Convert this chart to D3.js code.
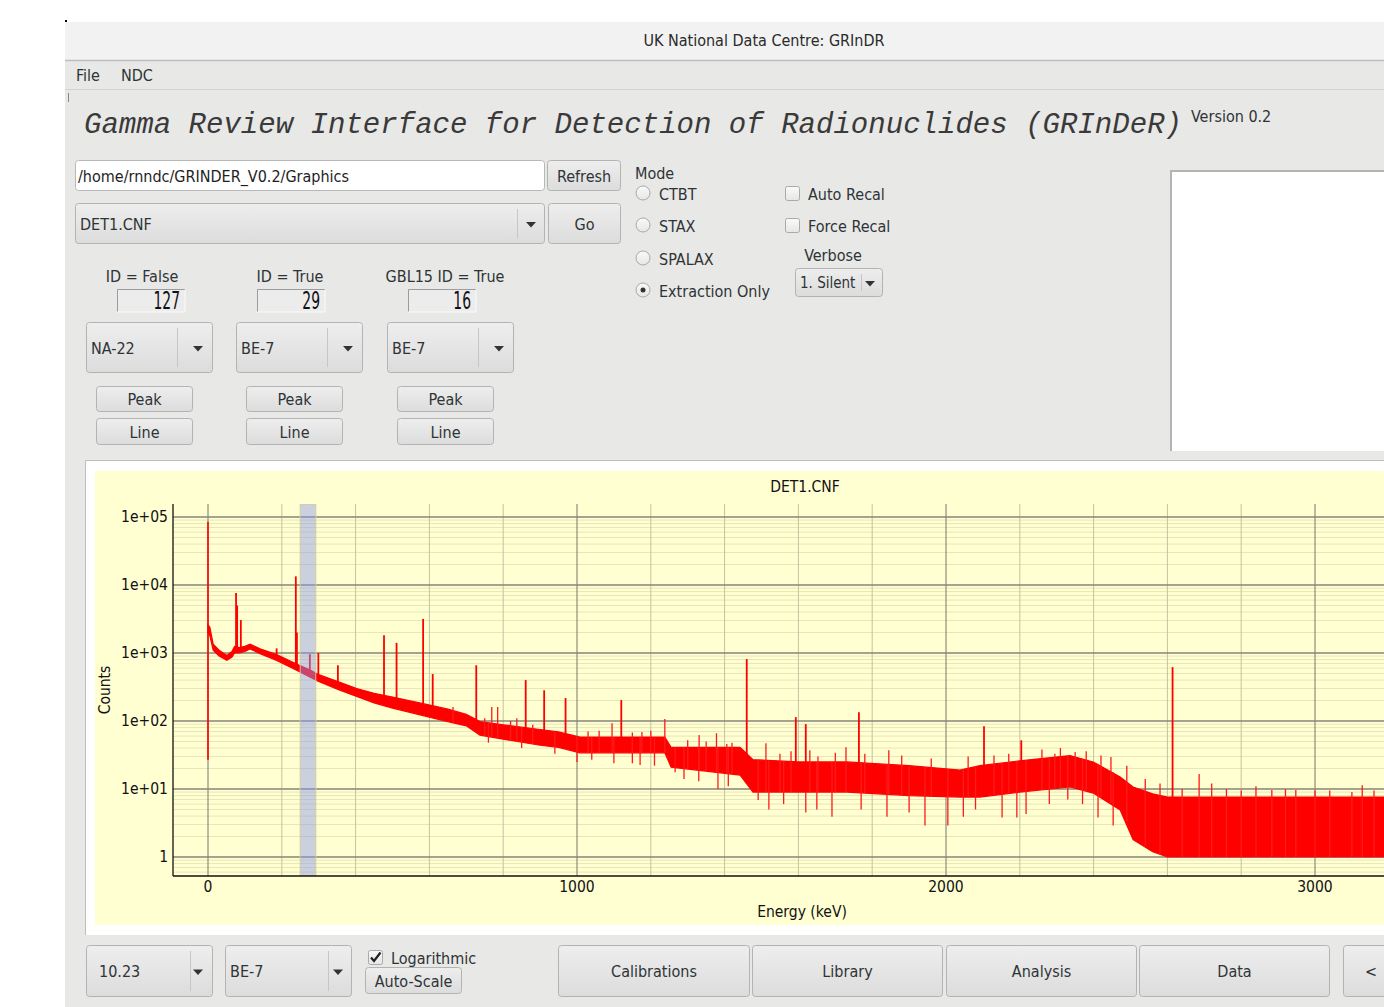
<!DOCTYPE html>
<html>
<head>
<meta charset="utf-8">
<script src="https://cdn.jsdelivr.net/npm/d3@7"></script>
<style>
html, body { margin: 0; padding: 0; background: #fff; overflow: hidden; }
svg { display: block; }
text { font-family: "DejaVu Sans Condensed", "DejaVu Sans", sans-serif; fill: #2e3436; }
</style>
</head>
<body>
<svg id="app" width="1384" height="1007"></svg>
<script>
// ---- chart data ----
const xTickValues = [0, 1000, 2000, 3000];
const yTickValues = [1, 10, 100, 1000, 10000, 100000];
const yTickLabels = ['1', '1e+01', '1e+02', '1e+03', '1e+04', '1e+05'];

// continuum envelope: energy (keV), lower and upper edge of the noisy trace (counts)
const envEnergy = [0, 5, 14, 30, 51, 65, 72, 85, 100, 114, 141, 186, 240, 277, 300, 352, 403, 450, 500, 583, 650, 700, 737, 800, 900, 950, 1008, 1100, 1238, 1255, 1442, 1477, 1600, 1732, 1900, 2038, 2092, 2200, 2336, 2399, 2472, 2507, 2560, 2600, 3200];
const envLow = [2000, 1800, 1100, 900, 780, 870, 1000, 1000, 1050, 1150, 980, 780, 560, 440, 380, 290, 230, 185, 155, 120, 98, 85, 62, 54, 44, 41, 34, 34, 34, 21, 16, 9, 9, 9, 8, 7.6, 7.6, 9, 10.7, 8.7, 4.9, 1.8, 1.2, 1, 1];
const envHigh = [2600, 2400, 1350, 1100, 920, 1050, 1250, 1200, 1250, 1350, 1150, 950, 690, 560, 480, 380, 300, 255, 225, 180, 150, 125, 98, 88, 75, 69, 58, 58, 58, 41, 41, 27, 25, 25, 22, 19, 22, 26, 31, 25, 15, 10.7, 8.5, 7.6, 7.6];

// gamma lines: energy (keV) and top of the peak (counts)
const peakEnergy = [76, 79, 89, 186, 238, 241, 276, 299, 352, 477, 511, 583, 609, 727, 861, 911, 969, 1120, 1460, 1593, 1620, 1764, 2103, 2204, 2614];
const peakTop = [7600, 5000, 3050, 1170, 13400, 2000, 960, 1000, 660, 1830, 1410, 3170, 490, 660, 400, 283, 218, 203, 815, 114, 90, 135, 84, 52, 620];

// channel-0 spike (low, high counts)
const zeroSpike = [27, 85000];

// smaller upward spikes in the noise (energy, counts)
const spikeEnergy = [664, 750, 769, 785, 820, 837, 880, 1030, 1060, 1095, 1150, 1176, 1200, 1238, 1300, 1331, 1350, 1378, 1406, 1420, 1512, 1550, 1580, 1631, 1653, 1700, 1729, 1780, 1845, 1880, 1960, 2060, 2130, 2170, 2260, 2295, 2310, 2350, 2380, 2420, 2447, 2490, 2540, 2580, 2640, 2686, 2720, 2760, 2800, 2840, 2883, 2920, 2948, 3000, 3040, 3100, 3128, 3160];
const spikeTop = [160, 110, 160, 160, 100, 110, 88, 70, 72, 93, 68, 69, 72, 107, 52, 62, 50, 66, 46, 48, 47, 33, 36, 37, 30, 34, 41, 33, 37, 31, 28, 30, 31, 33, 38, 33, 40, 35, 36, 31, 29.5, 22, 14, 12, 10, 16.6, 12, 10, 9.5, 11, 9.7, 10, 9.7, 9.5, 9.5, 9, 11.4, 9.5];

// downward dips in the noise (energy, counts)
const dipEnergy = [760, 850, 940, 1000, 1040, 1100, 1150, 1171, 1210, 1266, 1290, 1330, 1382, 1410, 1491, 1520, 1560, 1620, 1650, 1691, 1770, 1840, 1900, 1943, 2005, 2047, 2080, 2152, 2192, 2217, 2280, 2330, 2370, 2412, 2453];
const dipBottom = [48, 40, 33, 25, 27, 24, 24, 22.6, 22, 17.7, 14, 13, 10, 11, 6.9, 5, 6, 4.5, 5, 3.9, 5, 3.9, 4.5, 2.9, 2.9, 3.9, 5, 3.8, 3.8, 4.3, 6, 7, 6, 3.8, 2.9];

// highlighted region of interest (keV)
const roiRange = [250, 292];

// ---- GUI texts ----
const idLabels = ['ID = False', 'ID = True', 'GBL15 ID = True'];
const idCounts = ['127', '29', '16'];
const nuclideChoices = ['NA-22', 'BE-7', 'BE-7'];
const modeOptions = ['CTBT', 'STAX', 'SPALAX', 'Extraction Only'];
const bottomButtons = ['Calibrations', 'Library', 'Analysis', 'Data', '<'];

const svg = d3.select('#app');
const defs = svg.append('defs');

let grad = defs.append('linearGradient').attr('id', 'btn').attr('x1', 0).attr('x2', 0).attr('y1', 0).attr('y2', 1);
grad.append('stop').attr('offset', '0%').attr('stop-color', '#eeeeee');
grad.append('stop').attr('offset', '100%').attr('stop-color', '#dcdcdc');
let rgrad = defs.append('linearGradient').attr('id', 'radio').attr('x1', 0).attr('x2', 0).attr('y1', 0).attr('y2', 1);
rgrad.append('stop').attr('offset', '0%').attr('stop-color', '#fafafa');
rgrad.append('stop').attr('offset', '100%').attr('stop-color', '#e6e6e6');

// window chrome
svg.append('rect').attr('x', 65).attr('y', 22).attr('width', 1330).attr('height', 990).attr('fill', '#e8e8e7');
svg.append('rect').attr('x', 65).attr('y', 20).attr('width', 2).attr('height', 2).attr('fill', '#000');
svg.append('rect').attr('x', 65).attr('y', 22).attr('width', 1330).attr('height', 38).attr('fill', '#f2f2f2');
svg.append('line').attr('x1', 65).attr('x2', 1384).attr('y1', 60.5).attr('y2', 60.5).attr('stroke', '#bdbdbd').attr('stroke-width', 1.5);
svg.append('text').attr('x', 764).attr('y', 40).attr('text-anchor', 'middle').attr('dominant-baseline', 'central')
    .style('font-size', '16px').style('fill', '#2a2a2a').text('UK National Data Centre: GRInDR');
svg.append('line').attr('x1', 65).attr('x2', 1384).attr('y1', 89.5).attr('y2', 89.5).attr('stroke', '#d2d2d2');
svg.append('text').attr('x', 76).attr('y', 75).attr('dominant-baseline', 'central').style('font-size', '16px').text('File');
svg.append('text').attr('x', 121).attr('y', 75).attr('dominant-baseline', 'central').style('font-size', '16px').text('NDC');
svg.append('line').attr('x1', 68.5).attr('x2', 68.5).attr('y1', 93).attr('y2', 102).attr('stroke', '#888');

svg.append('text').attr('x', 84).attr('y', 125).attr('dominant-baseline', 'central')
    .attr('textLength', 1098).attr('lengthAdjust', 'spacingAndGlyphs')
    .style('font-family', '"Liberation Mono", "DejaVu Sans Mono", monospace').style('font-style', 'italic')
    .style('font-size', '29px').style('fill', '#3a3a3a')
    .text('Gamma Review Interface for Detection of Radionuclides (GRInDeR)');
svg.append('text').attr('x', 1191).attr('y', 116).attr('dominant-baseline', 'central').style('font-size', '16px').text('Version 0.2');

// ---- widget helpers ----
function button(x, y, w, h, label, tx, fs) {
    svg.append('rect').attr('x', x + 0.5).attr('y', y + 0.5).attr('width', w - 1).attr('height', h - 1).attr('rx', 3)
        .attr('fill', 'url(#btn)').attr('stroke', '#b3b3b3');
    svg.append('text').attr('x', tx === undefined ? x + w / 2 : tx).attr('y', y + h / 2 + 0.5)
        .attr('text-anchor', tx === undefined ? 'middle' : 'start').attr('dominant-baseline', 'central')
        .style('font-size', (fs || 16) + 'px').text(label);
}
function arrow(cx, cy) {
    svg.append('path').attr('d', `M${cx - 5},${cy - 2.5}L${cx + 5},${cy - 2.5}L${cx},${cy + 3}Z`).attr('fill', '#333');
}
function combo(x, y, w, h, label, tx, sepX, arrX, fs) {
    button(x, y, w, h, label, tx, fs);
    svg.append('line').attr('x1', sepX + 0.5).attr('x2', sepX + 0.5).attr('y1', y + 6).attr('y2', y + h - 6).attr('stroke', '#c6c6c6');
    arrow(arrX, y + h / 2 + 1);
}
function radio(cx, cy, checked, label) {
    svg.append('circle').attr('cx', cx).attr('cy', cy).attr('r', 7).attr('fill', 'url(#radio)').attr('stroke', '#a9a9a9');
    if (checked) svg.append('circle').attr('cx', cx).attr('cy', cy).attr('r', 2.5).attr('fill', '#333');
    svg.append('text').attr('x', cx + 16).attr('y', cy + 1).attr('dominant-baseline', 'central').style('font-size', '16px').text(label);
}
function checkbox(x, y, checked, label) {
    svg.append('rect').attr('x', x + 0.5).attr('y', y + 0.5).attr('width', 14).attr('height', 14).attr('rx', 2)
        .attr('fill', 'url(#radio)').attr('stroke', '#a9a9a9');
    if (checked) svg.append('path').attr('d', `M${x + 3},${y + 7.5}L${x + 6},${y + 11}L${x + 12.5},${y + 2.5}`)
        .attr('fill', 'none').attr('stroke', '#222').attr('stroke-width', 2.2);
    svg.append('text').attr('x', x + 23).attr('y', y + 8).attr('dominant-baseline', 'central').style('font-size', '16px').text(label);
}

// file / spectrum selectors
svg.append('rect').attr('x', 75.5).attr('y', 160.5).attr('width', 469).attr('height', 30).attr('rx', 3).attr('fill', '#fff').attr('stroke', '#b8b8b8');
svg.append('text').attr('x', 78).attr('y', 176).attr('dominant-baseline', 'central').style('font-size', '16px').style('fill', '#1e1e1e')
    .text('/home/rnndc/GRINDER_V0.2/Graphics');
button(547, 160, 74, 31, 'Refresh');
combo(75, 203, 470, 41, 'DET1.CNF', 80, 517, 531);
button(548, 203, 73, 41, 'Go');

// ID counters
const colLeft = [86, 236, 387];
const labelCx = [142, 290, 445];
const lcdX = [117, 257, 408];
idLabels.forEach((t, i) => {
    svg.append('text').attr('x', labelCx[i]).attr('y', 276).attr('text-anchor', 'middle').attr('dominant-baseline', 'central')
        .style('font-size', '16px').text(t);
    svg.append('rect').attr('x', lcdX[i]).attr('y', 289).attr('width', 68).attr('height', 23).attr('fill', '#ececec');
    svg.append('path').attr('d', `M${lcdX[i] + 0.5},${312}V${289.5}H${lcdX[i] + 68}`).attr('fill', 'none').attr('stroke', '#9c9c9c');
    svg.append('path').attr('d', `M${lcdX[i] + 68},${289.5}V${312}H${lcdX[i]}`).attr('fill', 'none').attr('stroke', '#fbfbfb');
    svg.append('text').attr('transform', `translate(${lcdX[i] + 63},301) scale(0.62,1)`).attr('text-anchor', 'end')
        .attr('dominant-baseline', 'central').style('font-size', '25px').style('fill', '#111').text(idCounts[i]);
    combo(colLeft[i], 322, 127, 51, nuclideChoices[i], colLeft[i] + 5, colLeft[i] + 91, colLeft[i] + 112);
    button(colLeft[i] + 10, 386, 97, 26, 'Peak');
    button(colLeft[i] + 10, 418, 97, 27, 'Line');
});

// mode options
svg.append('text').attr('x', 635).attr('y', 173).attr('dominant-baseline', 'central').style('font-size', '16px').text('Mode');
const radioY = [193, 225, 258, 290];
modeOptions.forEach((m, i) => radio(643, radioY[i], i === 3, m));
checkbox(785, 186, false, 'Auto Recal');
checkbox(785, 218, false, 'Force Recal');
svg.append('text').attr('x', 833).attr('y', 255).attr('text-anchor', 'middle').attr('dominant-baseline', 'central')
    .style('font-size', '16px').text('Verbose');
combo(795, 268, 88, 29, '1. Silent', 800, 861, 870, 15);

// empty white panel
svg.append('rect').attr('x', 1170).attr('y', 170).attr('width', 230).attr('height', 281).attr('fill', '#fff');
svg.append('path').attr('d', 'M1171,451V171H1400').attr('fill', 'none').attr('stroke', '#b4b4b4').attr('stroke-width', 2);

// chart frame
svg.append('rect').attr('x', 85).attr('y', 461).attr('width', 1320).attr('height', 474).attr('fill', '#fff');
svg.append('path').attr('d', 'M85.5,935V460.5H1400').attr('fill', 'none').attr('stroke', '#bdbdbd');
svg.append('rect').attr('x', 95).attr('y', 471).attr('width', 1310).attr('height', 454).attr('fill', '#ffffd2');

// ---- chart ----
const plotLeft = 173, plotTop = 504, plotBottom = 876, plotRight = 1460;
const x = d3.scaleLinear().domain([0, 3000]).range([208, 1315]);
const y = d3.scaleLog().domain([1, 1e5]).range([857, 517]);

defs.append('clipPath').attr('id', 'plotClip').append('rect')
    .attr('x', plotLeft).attr('y', plotTop).attr('width', plotRight - plotLeft).attr('height', plotBottom - plotTop);
const plot = svg.append('g').attr('clip-path', 'url(#plotClip)');

// horizontal grid
const minorY = [];
[0.1, 1, 10, 100, 1000, 10000, 100000].forEach(d => d3.range(2, 10).forEach(m => minorY.push(d * m)));
plot.selectAll('.hminor').data(minorY.filter(v => y(v) > plotTop && y(v) < plotBottom)).enter().append('line')
    .attr('x1', plotLeft).attr('x2', plotRight).attr('y1', d => y(d)).attr('y2', d => y(d))
    .attr('stroke', '#e6e6b8').attr('stroke-width', 1);
// vertical grid
const minorX = d3.range(0, 3401, 200).filter(v => v % 1000 !== 0);
plot.selectAll('.vminor').data(minorX).enter().append('line')
    .attr('x1', d => x(d)).attr('x2', d => x(d)).attr('y1', plotTop).attr('y2', plotBottom)
    .attr('stroke', '#c3c3a3').attr('stroke-width', 1);
plot.selectAll('.vmajor').data(xTickValues).enter().append('line')
    .attr('x1', d => x(d)).attr('x2', d => x(d)).attr('y1', plotTop).attr('y2', plotBottom)
    .attr('stroke', '#77776a').attr('stroke-width', 1);
plot.selectAll('.hmajor').data(yTickValues).enter().append('line')
    .attr('x1', plotLeft).attr('x2', plotRight).attr('y1', d => y(d)).attr('y2', d => y(d))
    .attr('stroke', '#85857a').attr('stroke-width', 1.3);

// spectrum
const env = envEnergy.map((e, i) => ({ e: e, lo: envLow[i], hi: envHigh[i] }));
const area = d3.area().x(d => x(d.e)).y0(d => y(d.lo)).y1(d => y(d.hi));
plot.append('path').datum(env).attr('d', area).attr('fill', '#ff0000').attr('stroke', '#ff0000').attr('stroke-width', 1.2);

const lowAt = d3.scaleLinear().domain(envEnergy).range(envLow);
const highAt = d3.scaleLinear().domain(envEnergy).range(envHigh);

plot.append('line').attr('x1', x(0)).attr('x2', x(0)).attr('y1', y(zeroSpike[0])).attr('y2', y(zeroSpike[1]))
    .attr('stroke', '#ff0000').attr('stroke-width', 1.6);
plot.selectAll('.spike').data(spikeEnergy).enter().append('line')
    .attr('x1', d => x(d)).attr('x2', d => x(d))
    .attr('y1', d => y(lowAt(d))).attr('y2', (d, i) => y(spikeTop[i]))
    .attr('stroke', '#ff1a1a').attr('stroke-width', 1.3);
plot.selectAll('.dip').data(dipEnergy).enter().append('line')
    .attr('x1', d => x(d)).attr('x2', d => x(d))
    .attr('y1', d => y(highAt(d))).attr('y2', (d, i) => y(dipBottom[i]))
    .attr('stroke', '#ff1a1a').attr('stroke-width', 1.3);
plot.selectAll('.peak').data(peakEnergy).enter().append('line')
    .attr('x1', d => x(d)).attr('x2', d => x(d))
    .attr('y1', d => y(lowAt(d))).attr('y2', (d, i) => y(peakTop[i]))
    .attr('stroke', '#ff0000').attr('stroke-width', 1.8);

// region of interest
plot.append('rect').attr('x', x(roiRange[0])).attr('y', plotTop)
    .attr('width', x(roiRange[1]) - x(roiRange[0])).attr('height', plotBottom - plotTop)
    .attr('fill', 'rgb(140,150,240)').attr('fill-opacity', 0.45)
    .attr('stroke', 'rgba(205,205,150,0.8)').attr('stroke-width', 1.2);

// axes
svg.append('line').attr('x1', plotLeft).attr('x2', plotLeft).attr('y1', plotTop).attr('y2', plotBottom).attr('stroke', '#111').attr('stroke-width', 1.3);
svg.append('line').attr('x1', plotLeft).attr('x2', 1384).attr('y1', plotBottom).attr('y2', plotBottom).attr('stroke', '#111').attr('stroke-width', 1.6);

svg.selectAll('.ylab').data(yTickValues).enter().append('text')
    .attr('x', 168).attr('y', d => y(d)).attr('text-anchor', 'end').attr('dominant-baseline', 'central')
    .style('font-size', '15.5px').style('fill', '#111').text((d, i) => yTickLabels[i]);
svg.selectAll('.xlab').data(xTickValues).enter().append('text')
    .attr('x', d => x(d)).attr('y', 887).attr('text-anchor', 'middle').attr('dominant-baseline', 'central')
    .style('font-size', '15.5px').style('fill', '#111').text(d => d);

svg.append('text').attr('x', 805).attr('y', 487).attr('text-anchor', 'middle').attr('dominant-baseline', 'central')
    .style('font-size', '15.5px').style('fill', '#111').text('DET1.CNF');
svg.append('text').attr('x', 802).attr('y', 912).attr('text-anchor', 'middle').attr('dominant-baseline', 'central')
    .style('font-size', '15.5px').style('fill', '#111').text('Energy (keV)');
svg.append('text').attr('transform', 'translate(105,690) rotate(-90)').attr('text-anchor', 'middle').attr('dominant-baseline', 'central')
    .style('font-size', '15.5px').style('fill', '#111').text('Counts');

// ---- bottom bar ----
combo(86, 945, 127, 52, '10.23', 99, 190, 198);
combo(225, 945, 127, 52, 'BE-7', 230, 328, 338);
checkbox(368, 950, true, 'Logarithmic');
button(365, 967, 97, 27, 'Auto-Scale');
const bottomX = [558, 752, 946, 1139, 1343];
const bottomW = [192, 191, 191, 191, 60];
bottomButtons.forEach((b, i) => {
    if (i === 4) button(bottomX[i], 945, bottomW[i], 52, b, 1365);
    else button(bottomX[i], 945, bottomW[i], 52, b);
});
</script>
</body>
</html>
